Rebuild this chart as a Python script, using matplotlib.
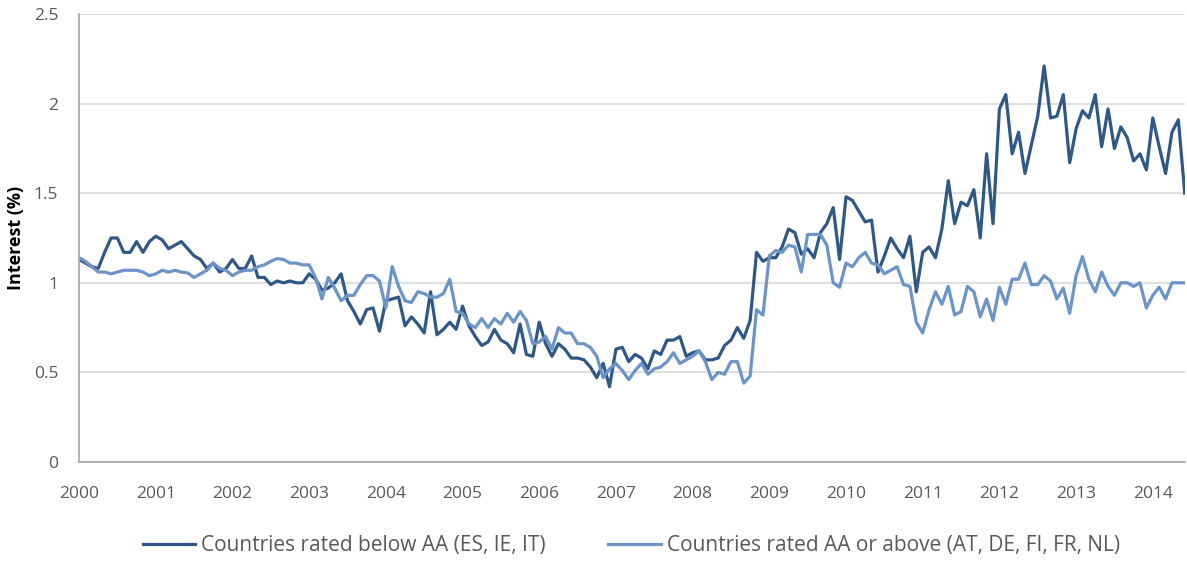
import numpy as np
import matplotlib.pyplot as plt

# monthly averages, Jan 2000 .. Jun 2014
below_aa = [
    1.13, 1.11, 1.09, 1.08, 1.17, 1.25, 1.25, 1.17, 1.17, 1.23, 1.17, 1.23,
    1.26, 1.24, 1.19, 1.21, 1.23, 1.19, 1.15, 1.13, 1.08, 1.11, 1.06, 1.08,
    1.13, 1.08, 1.08, 1.15, 1.03, 1.03, 0.99, 1.01, 1.00, 1.01, 1.00, 1.00,
    1.05, 1.02, 0.96, 0.97, 1.00, 1.05, 0.90, 0.84, 0.77, 0.85, 0.86, 0.73,
    0.90, 0.91, 0.92, 0.76, 0.81, 0.77, 0.72, 0.95, 0.71, 0.74, 0.78, 0.74,
    0.87, 0.76, 0.70, 0.65, 0.67, 0.74, 0.68, 0.66, 0.61, 0.77, 0.60, 0.59,
    0.78, 0.66, 0.59, 0.66, 0.63, 0.58, 0.58, 0.57, 0.53, 0.47, 0.55, 0.42,
    0.63, 0.64, 0.56, 0.60, 0.58, 0.52, 0.62, 0.60, 0.68, 0.68, 0.70, 0.59,
    0.61, 0.62, 0.57, 0.57, 0.58, 0.65, 0.68, 0.75, 0.69, 0.79, 1.17, 1.12,
    1.14, 1.14, 1.20, 1.30, 1.28, 1.16, 1.19, 1.14, 1.28, 1.33, 1.42, 1.13,
    1.48, 1.46, 1.40, 1.34, 1.35, 1.06, 1.15, 1.25, 1.19, 1.14, 1.26, 0.95,
    1.17, 1.20, 1.14, 1.30, 1.57, 1.33, 1.45, 1.43, 1.52, 1.25, 1.72, 1.33,
    1.97, 2.05, 1.72, 1.84, 1.61, 1.77, 1.93, 2.21, 1.92, 1.93, 2.05, 1.67,
    1.86, 1.96, 1.92, 2.05, 1.76, 1.97, 1.75, 1.87, 1.81, 1.68, 1.72, 1.63,
    1.92, 1.76, 1.61, 1.84, 1.91, 1.50,
]
aa_or_above = [
    1.14, 1.12, 1.09, 1.06, 1.06, 1.05, 1.06, 1.07, 1.07, 1.07, 1.06, 1.04,
    1.05, 1.07, 1.06, 1.07, 1.06, 1.055, 1.03, 1.05, 1.07, 1.11, 1.08, 1.07,
    1.04, 1.06, 1.07, 1.07, 1.09, 1.10, 1.12, 1.135, 1.13, 1.11, 1.11, 1.10,
    1.10, 1.03, 0.91, 1.03, 0.97, 0.90, 0.93, 0.93, 0.99, 1.04, 1.04, 1.01,
    0.86, 1.09, 0.98, 0.90, 0.89, 0.95, 0.94, 0.92, 0.92, 0.94, 1.02, 0.84,
    0.83, 0.77, 0.75, 0.80, 0.75, 0.80, 0.77, 0.83, 0.78, 0.84, 0.79, 0.66,
    0.67, 0.70, 0.63, 0.75, 0.72, 0.72, 0.66, 0.66, 0.64, 0.59, 0.47, 0.52,
    0.55, 0.51, 0.46, 0.51, 0.55, 0.49, 0.52, 0.53, 0.56, 0.61, 0.55, 0.57,
    0.59, 0.62, 0.56, 0.46, 0.50, 0.49, 0.56, 0.56, 0.44, 0.48, 0.85, 0.82,
    1.15, 1.18, 1.17, 1.21, 1.20, 1.06, 1.27, 1.27, 1.27, 1.21, 1.00, 0.975,
    1.11, 1.09, 1.14, 1.17, 1.11, 1.10, 1.05, 1.07, 1.09, 0.99, 0.98, 0.78,
    0.72, 0.85, 0.95, 0.88, 0.98, 0.82, 0.84, 0.98, 0.95, 0.81, 0.91, 0.79,
    0.975, 0.88, 1.02, 1.02, 1.11, 0.99, 0.99, 1.04, 1.01, 0.91, 0.97, 0.83,
    1.04, 1.146, 1.02, 0.95, 1.06, 0.98, 0.93, 1.00, 1.00, 0.98, 1.00, 0.86,
    0.93, 0.975, 0.91, 1.00, 1.00, 1.00,
]
years = list(range(2000, 2015))
labels = ['Countries rated below AA (ES, IE, IT)',
          'Countries rated AA or above (AT, DE, FI, FR, NL)']

t = 2000 + np.arange(len(below_aa)) / 12.0

plt.rcParams['font.family'] = ['Open Sans', 'DejaVu Sans']
fig = plt.figure(figsize=(11.87, 5.61), dpi=100)
ax = fig.add_axes([0.0666, 0.1765, 0.9315, 0.7985])

ax.plot(t, below_aa, color='#2f5888', lw=2.3, label=labels[0])
ax.plot(t, aa_or_above, color='#6b94c9', lw=2.3, label=labels[1])

ax.set_xlim(2000, t[-1])
ax.set_ylim(0, 2.5)
ax.set_xticks(years)
ax.set_xticklabels([str(y) for y in years])
ax.set_yticks([0, 0.5, 1, 1.5, 2, 2.5])
ax.set_yticklabels(['0', '0.5', '1', '1.5', '2', '2.5'])
ax.tick_params(length=0, labelsize=12.5, colors='#595959')
ax.tick_params(axis='x', pad=17)
ax.tick_params(axis='y', pad=15)
ax.grid(axis='y', color='#d9d9d9', lw=1.2)
ax.set_axisbelow(True)
for s in ['top', 'right']:
    ax.spines[s].set_visible(False)
for s in ['left', 'bottom']:
    ax.spines[s].set_color('#a6a6a6')
    ax.spines[s].set_linewidth(1.2)
ax.set_ylabel('Interest (%)', fontsize=13, fontweight='bold', labelpad=6)

fig.legend(loc='center', bbox_to_anchor=(0.532, 0.027), ncol=2, frameon=False,
           fontsize=15, handlelength=2.5, columnspacing=3.0, handletextpad=0.3,
           labelcolor='#595959')

fig.savefig('out.png', dpi=100)
